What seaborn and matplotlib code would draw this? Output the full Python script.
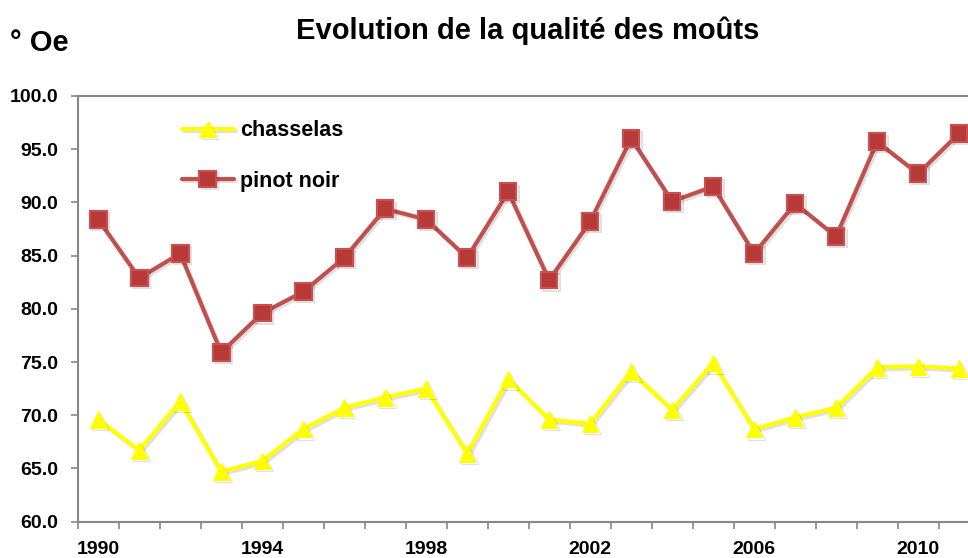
import numpy as np
import pandas as pd
import matplotlib
matplotlib.use('Agg')
import matplotlib.pyplot as plt
import matplotlib.patheffects as pe
import seaborn as sns

years = list(range(1990, 2012))
chasselas = [69.6, 66.7, 71.3, 64.7, 65.7, 68.7, 70.7, 71.7, 72.5, 66.4, 73.4,
             69.6, 69.2, 74.1, 70.5, 74.9, 68.7, 69.8, 70.7, 74.5, 74.6, 74.4]
pinot_noir = [88.4, 82.9, 85.2, 75.9, 79.6, 81.6, 84.8, 89.4, 88.4, 84.8, 91.0,
              82.7, 88.2, 96.0, 90.1, 91.5, 85.2, 89.9, 86.8, 95.7, 92.7, 96.5]
year_labels = [1990, 1994, 1998, 2002, 2006, 2010]
y_ticks = [60, 65, 70, 75, 80, 85, 90, 95, 100]

sns.set_style('white')
plt.rcParams['font.family'] = ['Liberation Sans', 'DejaVu Sans']
plt.rcParams['text.color'] = 'black'
plt.rcParams['xtick.labelcolor'] = 'black'
plt.rcParams['ytick.labelcolor'] = 'black'

AXIS_GREY = '#868686'
RED = '#C0504D'
YELLOW = '#FFFF00'

fig = plt.figure(figsize=(9.68, 5.58), dpi=100)
# plot area runs past the right edge, as in the original crop
ax = fig.add_axes([77.7 / 968, 1 - 521.7 / 558, 901.9 / 968, 425.7 / 558])

df = pd.DataFrame({'year': years, 'chasselas': chasselas, 'pinot noir': pinot_noir})

shadow = [pe.SimpleLineShadow(offset=(1.5, -1.5), shadow_color='black', alpha=0.12),
          pe.Normal()]

sns.lineplot(data=df, x='year', y='chasselas', ax=ax, color=YELLOW, lw=3,
             marker='^', markersize=12, markeredgecolor=YELLOW,
             markerfacecolor=YELLOW, label='chasselas', path_effects=shadow)
sns.lineplot(data=df, x='year', y='pinot noir', ax=ax, color=RED, lw=3,
             marker='s', markersize=12, markeredgecolor='#C9504E',
             markeredgewidth=1.5, markerfacecolor='#B83A38',
             label='pinot noir', path_effects=shadow)

ax.set_xlim(1989.5, 2011.5)
ax.set_ylim(60, 100)
ax.set_xlabel('')
ax.set_ylabel('')

ax.set_yticks(y_ticks)
ax.set_yticklabels([f'{v:.1f}' for v in y_ticks], fontsize=14, fontweight='bold')
ax.tick_params(axis='y', direction='out', length=5, width=1.2, color=AXIS_GREY,
               pad=9, left=True, labelcolor='black')

ax.set_xticks(year_labels)
ax.set_xticklabels([str(y) for y in year_labels], fontsize=14, fontweight='bold')
ax.set_xticks(np.arange(1989.5, 2012.5, 1), minor=True)
ax.tick_params(axis='x', which='major', length=0, pad=14, labelcolor='black')
ax.tick_params(axis='x', which='minor', direction='out', length=5, width=1.2,
               color=AXIS_GREY, bottom=True)

for side in ['left', 'bottom', 'top']:
    ax.spines[side].set_color(AXIS_GREY)
    ax.spines[side].set_linewidth(1.5)
ax.spines['right'].set_visible(False)
ax.grid(False)

leg = ax.legend(loc='center left', bbox_to_anchor=(0.1156, 0.859), frameon=False,
                prop={'weight': 'bold', 'size': 15.5}, labelspacing=1.35,
                handlelength=2.4, handletextpad=0.3, borderpad=0, borderaxespad=0)
for t in leg.get_texts():
    t.set_color('black')

fig.text(528 / 968, 1 - 31 / 558, 'Evolution de la qualité des moûts',
         ha='center', va='center', fontsize=21, fontweight='bold', color='black')
fig.text(10 / 968, 1 - 43 / 558, '° Oe', ha='left', va='center',
         fontsize=21, fontweight='bold', color='black')

fig.savefig('out.png', dpi=100)
